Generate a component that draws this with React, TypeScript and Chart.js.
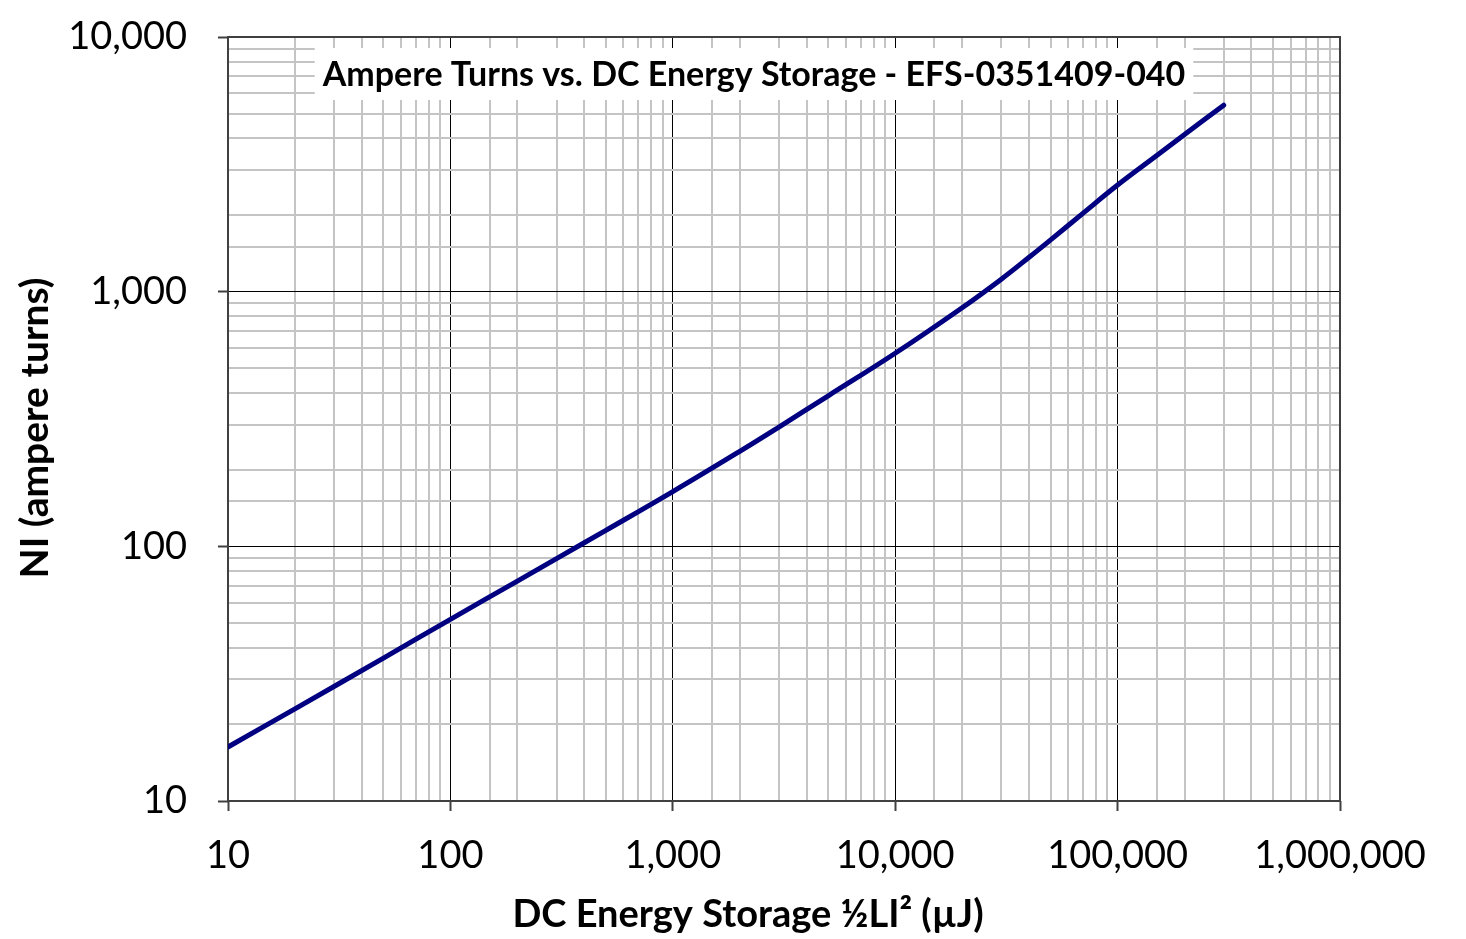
import React, { useEffect, useRef } from 'react';
import { Chart, registerables } from 'chart.js';

Chart.register(...registerables);

const energy = [10, 20, 50, 100, 200, 300, 500, 1000, 2000, 3000, 5000, 10000, 20000, 30000, 40000, 50000, 70000, 100000, 150000, 200000, 300000];
const ampereTurns = [16.3, 23.0, 36.4, 51.7, 73.0, 89.5, 115.5, 164, 236, 294, 390, 573, 865, 1120, 1365, 1598, 2035, 2622, 3424, 4140, 5400];
const xMin = 10;
const xMax = 1000000;
const yMin = 10;
const yMax = 10000;
const chartTitle = 'Ampere Turns vs. DC Energy Storage - EFS-0351409-040';
const xAxisTitle = 'DC Energy Storage ½LI² (µJ)';
const yAxisTitle = 'NI (ampere turns)';

const FONT = 'Lato, "Open Sans", sans-serif';

const isDecade = (v: number) => {
  const l = Math.log10(v);
  return Math.abs(l - Math.round(l)) < 1e-9;
};
const fmt = (v: number) => Math.round(v).toLocaleString('en-US');

export default function App() {
  const ref = useRef<HTMLCanvasElement | null>(null);

  useEffect(() => {
    const canvas = ref.current;
    if (!canvas) return;

    const decorations = {
      id: 'decorations',
      beforeDatasetsDraw(chart: any) {
        const { ctx, chartArea } = chart;
        ctx.save();
        ctx.strokeStyle = '#404040';
        ctx.lineWidth = 2;
        ctx.strokeRect(chartArea.left, chartArea.top, chartArea.right - chartArea.left, chartArea.bottom - chartArea.top);
        ctx.restore();
      },
      afterDatasetsDraw(chart: any) {
        const { ctx } = chart;
        ctx.save();
        // title box
        ctx.font = `bold 34px ${FONT}`;
        const tw = ctx.measureText(chartTitle).width;
        const cx = 754;
        const cy = 75;
        ctx.fillStyle = '#ffffff';
        ctx.fillRect(cx - tw / 2 - 8, 48, tw + 16, 52);
        ctx.fillStyle = '#000000';
        ctx.textAlign = 'center';
        ctx.textBaseline = 'middle';
        ctx.fillText(chartTitle, cx, cy);

        // x axis title
        ctx.font = `bold 38px ${FONT}`;
        ctx.fillText(xAxisTitle, 748, 915);

        // y axis title
        ctx.font = `bold 39px ${FONT}`;
        ctx.translate(35, 428);
        ctx.rotate(-Math.PI / 2);
        ctx.fillText(yAxisTitle, 0, 0);
        ctx.restore();
      },
    };

    const gridColor = (c: any) => (c.tick && isDecade(c.tick.value) ? '#000000' : '#c4c4c4');
    const gridWidth = (c: any) => (c.tick && isDecade(c.tick.value) ? 1 : 2);
    const tickColor = (c: any) => (c.tick && isDecade(c.tick.value) ? '#404040' : 'rgba(0,0,0,0)');

    const chart = new Chart(canvas, {
      type: 'scatter',
      data: {
        datasets: [
          {
            data: energy.map((x, i) => ({ x, y: ampereTurns[i] })),
            showLine: true,
            borderColor: '#000080',
            borderWidth: 5,
            borderCapStyle: 'round',
            borderJoinStyle: 'round',
            pointRadius: 0,
            tension: 0.4,
            fill: false,
          },
        ],
      },
      options: {
        animation: false,
        responsive: false,
        maintainAspectRatio: false,
        devicePixelRatio: 1,
        layout: { padding: { top: 37, right: 126, left: 0, bottom: 0 } },
        plugins: {
          legend: { display: false },
          title: { display: false },
          tooltip: { enabled: false },
        },
        scales: {
          x: {
            type: 'logarithmic',
            min: xMin,
            max: xMax,
            afterFit: (s: any) => {
              s.height = 138;
              s.paddingLeft = 0;
              s.paddingRight = 0;
            },
            border: { display: false },
            grid: {
              color: gridColor,
              lineWidth: gridWidth,
              tickColor: tickColor,
              tickLength: 10,
              tickWidth: 2,
            },
            ticks: {
              autoSkip: false,
              maxRotation: 0,
              padding: 22,
              color: '#000000',
              font: { family: FONT, size: 38 },
              callback: (v: any) => (isDecade(Number(v)) ? fmt(Number(v)) : ''),
            },
          },
          y: {
            type: 'logarithmic',
            min: yMin,
            max: yMax,
            afterFit: (s: any) => {
              s.width = 228;
              s.paddingTop = 0;
              s.paddingBottom = 0;
            },
            border: { display: false },
            grid: {
              color: gridColor,
              lineWidth: gridWidth,
              tickColor: tickColor,
              tickLength: 10,
              tickWidth: 2,
            },
            ticks: {
              autoSkip: false,
              padding: 31,
              color: '#000000',
              font: { family: FONT, size: 38 },
              callback: (v: any) => (isDecade(Number(v)) ? fmt(Number(v)) : ''),
            },
          },
        },
      },
      plugins: [decorations],
    } as any);

    return () => chart.destroy();
  }, []);

  return (
    <div style={{ position: 'fixed', left: 0, top: 0, width: 1466, height: 939, background: '#ffffff' }}>
      <canvas ref={ref} width={1466} height={939} style={{ width: 1466, height: 939, display: 'block' }} />
    </div>
  );
}
